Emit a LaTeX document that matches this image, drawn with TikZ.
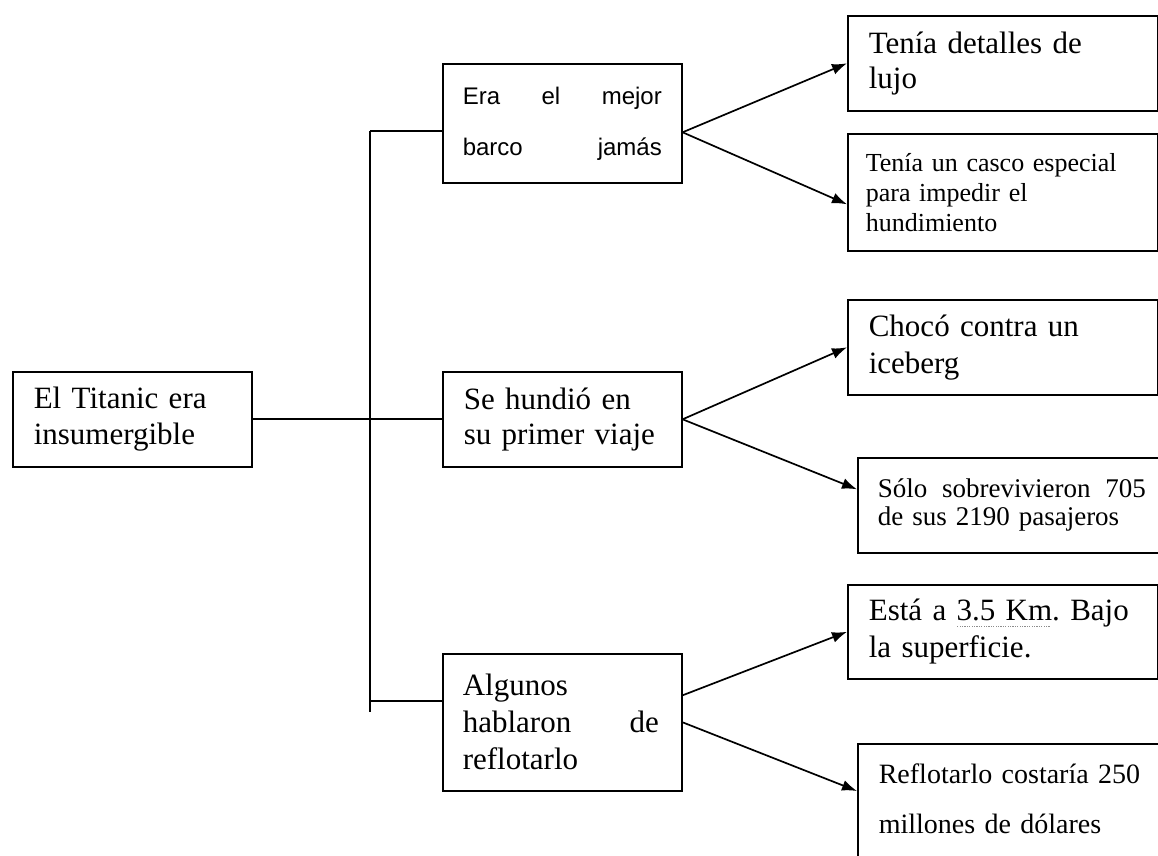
\documentclass[tikz,border=0pt]{standalone}
\usepackage{fontspec}
\setmainfont{Liberation Serif}
\newfontfamily\arialfont{Liberation Sans}
\usetikzlibrary{arrows.meta,calc}
\frenchspacing

\newsavebox\kmcaja
\newcommand\punteado[1]{\sbox\kmcaja{#1}\rlap{\raisebox{-6pt}{\color{black!45}\hbox to\wd\kmcaja{\leaders\hbox to 2.4pt{\hss\rule{1.1pt}{1.1pt}\hss}\hfill}}}\usebox\kmcaja}

\begin{document}
\begin{tikzpicture}[x=1pt,y=-1pt,>={Latex[length=15pt,width=11pt]},
  caja/.style={draw,line width=1.6pt,anchor=north west,align=left,inner ysep=0pt,text width=#1},
  linea/.style={line width=1.7pt},
  flecha/.style={->,line width=1.7pt}]
\useasboundingbox (0,0) rectangle (1158,855);
% cajas
\node[caja=197pt,inner xsep=21pt,minimum height=95pt,font=\fontsize{31}{36}\selectfont] (titanic) at (12,371) {El Titanic era\\insumergible};
\node[caja=199pt,inner xsep=20pt,minimum height=119pt,font=\arialfont\fontsize{24}{51}\selectfont] (era) at (442,63) {\makebox[199pt][l]{Era\hfill el\hfill mejor}\\\makebox[199pt][l]{barco\hfill jamás}};
\node[caja=197pt,inner xsep=21pt,minimum height=95pt,font=\fontsize{31}{35}\selectfont] (hundio) at (442,371) {Se hundió en\\su primer viaje};
\node[caja=199pt,inner xsep=20pt,minimum height=137pt,font=\fontsize{31}{37}\selectfont] (algunos) at (442,653) {Algunos\\\makebox[196pt][l]{hablaron\hfill de}\\reflotarlo};
\node[caja=268pt,inner xsep=21pt,minimum height=95pt,font=\fontsize{31}{35}\selectfont] (lujo) at (847,15) {Tenía detalles de\\lujo};
\node[caja=274pt,inner xsep=18pt,minimum height=117pt,font=\fontsize{26}{30}\selectfont] (casco) at (847,133) {Tenía un casco especial\\para impedir el\\hundimiento};
\node[caja=268pt,inner xsep=21pt,minimum height=95pt,font=\fontsize{31}{37}\selectfont] (choco) at (847,299) {Chocó contra un\\iceberg};
\node[caja=270pt,inner xsep=20pt,minimum height=95pt,font=\fontsize{27}{28}\selectfont] (solo) at (857,457) {\makebox[268pt][l]{Sólo\hfill sobrevivieron\hfill 705}\\de sus 2190 pasajeros};
\node[caja=268pt,inner xsep=21pt,minimum height=94pt,font=\fontsize{31}{37}\selectfont] (esta) at (847,584) {Está a \punteado{3.5 Km}. Bajo\\la superficie.};
\node[caja=268pt,inner xsep=21pt,minimum height=160pt,font=\fontsize{28}{50}\selectfont] (reflota) at (857,743) {Reflotarlo costaría 250\\millones de dólares\\\mbox{}};
% arbol
\coordinate (sup) at (370,131);
\coordinate (inf) at (370,712);
\coordinate (ramal) at (370,701);
\draw[linea] (titanic.east) -- (hundio.west);
\draw[linea] (sup) -- (inf);
\draw[linea] (sup) -- (sup -| era.west);
\draw[linea] (ramal) -- (ramal -| algunos.west);
% flechas
\draw[flecha] ($(era.east)+(0,9)$) -- (lujo.west);
\draw[flecha] ($(era.east)+(0,9)$) -- ($(casco.west)+(0,12)$);
\draw[flecha] (hundio.east) -- (choco.west);
\draw[flecha] (hundio.east) -- ($(solo.west)+(0,-16)$);
\draw[flecha] ($(algunos.east)+(0,-27)$) -- (esta.west);
\draw[flecha] (algunos.east) -- ($(reflota.north west)+(0,48)$);
\end{tikzpicture}
\end{document}
